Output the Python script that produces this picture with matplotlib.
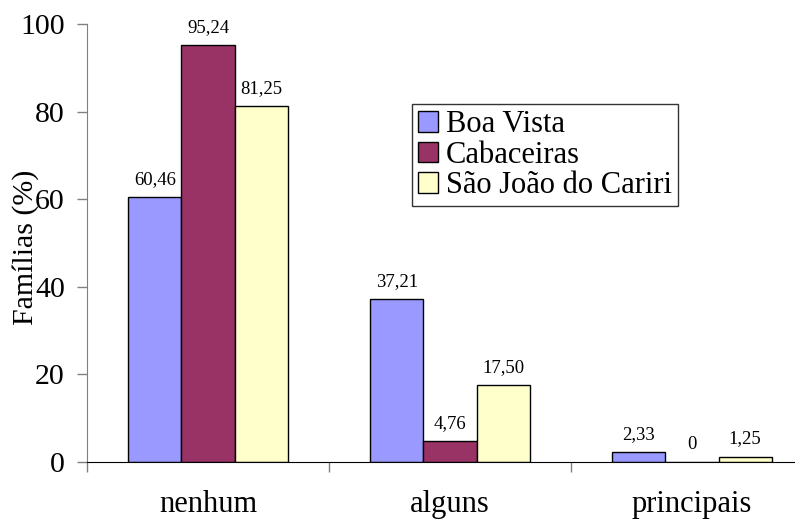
import matplotlib.pyplot as plt
import numpy as np

plt.rcParams['font.family'] = ['Liberation Serif', 'DejaVu Serif']

categories = ["nenhum", "alguns", "principais"]
series_names = ["Boa Vista", "Cabaceiras", "São João do Cariri"]
boa_vista = [60.46, 37.21, 2.33]
cabaceiras = [95.24, 4.76, 0.0]
sao_joao = [81.25, 17.50, 1.25]
colors = ["#9999FF", "#993366", "#FFFFCC"]


def fmt(v):
    if v == 0:
        return "0"
    return f"{v:.2f}".replace(".", ",")


def main():
    fig = plt.figure(figsize=(7.95, 5.22), dpi=100)
    ax = fig.add_axes([87 / 795, 1 - 462 / 522, 726 / 795, 438 / 522])

    x = np.arange(len(categories))
    width = 0.22
    for i, (vals, name, col) in enumerate(zip([boa_vista, cabaceiras, sao_joao], series_names, colors)):
        pos = x + (i - 1) * width
        bars = ax.bar(pos, vals, width=width, color=col, edgecolor="black", linewidth=1.0, label=name)
        for b, v in zip(bars, vals):
            ax.annotate(fmt(v), (b.get_x() + b.get_width() / 2, v), xytext=(0, 6.5),
                        textcoords="offset points", ha="center", va="bottom", fontsize=13.5)

    ax.set_xlim(-0.5, 2.5)
    ax.set_ylim(0, 100)
    ax.set_yticks(np.arange(0, 101, 20))
    ax.tick_params(axis="y", labelsize=21.5, length=7, width=1, color="#808080", direction="out", pad=9)

    ax.set_xticks([-0.5, 0.5, 1.5, 2.5])
    ax.set_xticklabels([])
    ax.set_xticks(x, minor=True)
    ax.set_xticklabels(categories, minor=True)
    ax.tick_params(axis="x", which="major", length=7, width=1, color="#808080", direction="out")
    ax.tick_params(axis="x", which="minor", length=0, labelsize=22, pad=20)

    for s in ["top", "right"]:
        ax.spines[s].set_visible(False)
    ax.spines["left"].set_color("#808080")
    ax.spines["bottom"].set_color("black")

    ax.set_ylabel("Famílias (%)", fontsize=21.5)
    ax.yaxis.set_label_coords(-0.066, 0.49)

    leg = ax.legend(loc="upper left", bbox_to_anchor=(412 / 795, 1 - 104 / 522),
                    bbox_transform=fig.transFigure, fontsize=22, frameon=True,
                    fancybox=False, shadow=False, handlelength=0.65, handleheight=0.65,
                    handletextpad=0.25, labelspacing=0.05, borderpad=0.2, borderaxespad=0)
    leg.get_frame().set_edgecolor("black")
    leg.get_frame().set_linewidth(1.0)

    fig.savefig("out.png", dpi=100)
    plt.close(fig)


if __name__ == "__main__":
    main()
